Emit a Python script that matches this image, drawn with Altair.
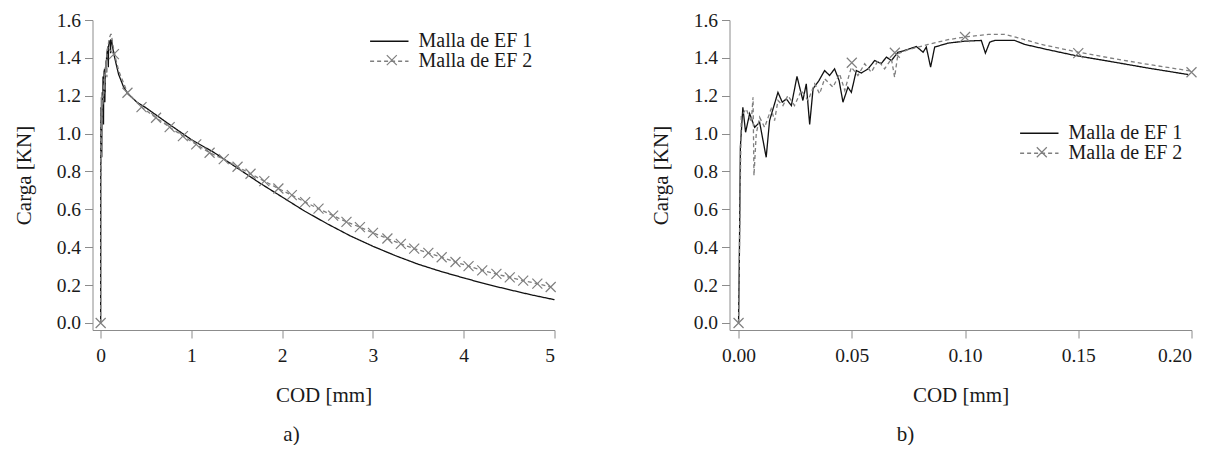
import altair as alt
import pandas as pd

FONT = "Liberation Serif"
SERIES = ["Malla de EF 1", "Malla de EF 2"]

# ---- panel b (detail 0-0.2 mm) ----
b_x1 = [0.0, 0.0004, 0.0008, 0.0019, 0.0031, 0.0049, 0.0071, 0.0093, 0.0122, 0.0137,
        0.0174, 0.0193, 0.0211, 0.0233, 0.0258, 0.0284, 0.0299, 0.0314, 0.0329, 0.0355,
        0.038, 0.0402, 0.0424, 0.0444, 0.0461, 0.0483, 0.0498, 0.052, 0.0542, 0.0572,
        0.0601, 0.063, 0.0653, 0.0675, 0.0704, 0.0733, 0.0785, 0.0815, 0.0829, 0.0848,
        0.0866, 0.0925, 0.0998, 0.1072, 0.109, 0.1109, 0.1131, 0.1219, 0.1264, 0.1367,
        0.1484, 0.1632, 0.1809, 0.1985]
b_y1 = [0.0, 0.40, 0.93, 1.139, 1.007, 1.106, 1.033, 1.06, 0.875, 1.069,
        1.218, 1.166, 1.183, 1.148, 1.302, 1.175, 1.263, 1.048, 1.237, 1.28,
        1.333, 1.307, 1.342, 1.28, 1.166, 1.245, 1.218, 1.333, 1.32, 1.342,
        1.386, 1.37, 1.404, 1.386, 1.43, 1.439, 1.46, 1.43, 1.457, 1.351,
        1.457, 1.478, 1.488, 1.492, 1.425, 1.483, 1.492, 1.492, 1.471, 1.443,
        1.413, 1.383, 1.346, 1.312]

b_x2 = [0.0, 0.0005, 0.0012, 0.0034, 0.0056, 0.0064, 0.0068, 0.0078, 0.0093, 0.0115,
        0.0144, 0.0159, 0.0174, 0.0196, 0.0218, 0.0247, 0.0277, 0.0307, 0.0336, 0.0358,
        0.038, 0.0417, 0.0446, 0.0469, 0.0498, 0.0527, 0.0557, 0.0586, 0.0616, 0.0645,
        0.0675, 0.0689, 0.0704, 0.0748, 0.0837, 0.0925, 0.0998, 0.1102, 0.1175, 0.1234,
        0.1337, 0.15, 0.1661, 0.1838, 0.2]
b_y2 = [0.0, 0.5, 1.095, 1.13, 1.06, 1.192, 0.778, 0.998, 1.086, 1.033,
        1.131, 1.069, 1.175, 1.148, 1.201, 1.148, 1.228, 1.175, 1.263, 1.21,
        1.29, 1.245, 1.316, 1.228, 1.351, 1.307, 1.369, 1.324, 1.386, 1.342,
        1.395, 1.298, 1.422, 1.443, 1.471, 1.496, 1.51, 1.524, 1.524, 1.506,
        1.471, 1.43, 1.395, 1.36, 1.33]

b_mx = [0.0, 0.05, 0.069, 0.1, 0.15, 0.2]
b_my = [0.0, 1.374, 1.427, 1.51, 1.425, 1.324]

# ---- panel a (0-5 mm): detail above plus the softening tail ----
a_tail_x1 = [0.25, 0.3, 0.4, 0.5, 0.75, 1.0, 1.25, 1.5, 1.75, 2.0, 2.25, 2.5, 2.75,
             3.0, 3.25, 3.5, 3.75, 4.0, 4.25, 4.5, 4.75, 5.0]
a_tail_y1 = [1.249, 1.21, 1.166, 1.136, 1.051, 0.968, 0.90, 0.82, 0.74, 0.665, 0.59,
             0.523, 0.46, 0.405, 0.355, 0.31, 0.272, 0.238, 0.205, 0.176, 0.148, 0.123]

a_mx = [0.0, 0.146, 0.295, 0.45, 0.61, 0.76, 0.906, 1.053, 1.2, 1.356, 1.508, 1.651,
        1.803, 1.958, 2.106, 2.253, 2.4, 2.561, 2.708, 2.856, 3.0, 3.159, 3.307, 3.454,
        3.61, 3.757, 3.909, 4.053, 4.204, 4.36, 4.507, 4.655, 4.811, 4.958]
a_my = [0.0, 1.42, 1.216, 1.14, 1.084, 1.034, 0.987, 0.943, 0.899, 0.865, 0.825, 0.788,
        0.749, 0.71, 0.675, 0.638, 0.604, 0.567, 0.534, 0.506, 0.476, 0.446, 0.418, 0.393,
        0.37, 0.347, 0.322, 0.3, 0.278, 0.259, 0.241, 0.224, 0.208, 0.19]

a_x_ticks = [0, 1, 2, 3, 4, 5]
b_x_ticks = [0.0, 0.05, 0.10, 0.15, 0.20]
y_ticks = [0.0, 0.2, 0.4, 0.6, 0.8, 1.0, 1.2, 1.4, 1.6]

XPATH = "M-1,-1L1,1M-1,1L1,-1"
LINEPATH = "M-3.8,0H1"

BLACK = "#111111"
GRAY = "#7f7f7f"
TXT = "#1a1a1a"


def lines_df(x1, y1, x2, y2):
    rows = []
    for k, (x, y) in enumerate(zip(x1, y1)):
        rows.append({"x": x, "y": y, "serie": SERIES[0], "i": k})
    for k, (x, y) in enumerate(zip(x2, y2)):
        rows.append({"x": x, "y": y, "serie": SERIES[1], "i": k})
    return pd.DataFrame(rows)


def marks_df(mx, my):
    return pd.DataFrame({"x": mx, "y": my, "serie": [SERIES[1]] * len(mx)})


a_lines = lines_df(b_x1 + a_tail_x1, b_y1 + a_tail_y1,
                   b_x2 + [x for x in a_mx if x > 0.2],
                   b_y2 + [y for x, y in zip(a_mx, a_my) if x > 0.2])
b_lines = lines_df(b_x1, b_y1, b_x2, b_y2)


def panel(ldf, mdf, xdom, xticks, xfmt, lx, ly, cap, capdx):
    xs = alt.Scale(domain=xdom, nice=False, zero=False)
    ys = alt.Scale(domain=[-0.037, 1.6], nice=False, zero=False)
    xax = alt.Axis(values=xticks, format=xfmt, title="COD [mm]",
                   labelFont=FONT, titleFont=FONT, labelPadding=8, titlePadding=20)
    yax = alt.Axis(values=y_ticks, format=".1f", title="Carga [KN]",
                   labelFont=FONT, titleFont=FONT, labelPadding=4, titlePadding=22)
    cscale = alt.Scale(domain=SERIES, range=[BLACK, GRAY])
    dscale = alt.Scale(domain=SERIES, range=[[1, 0], [4, 3]])
    leg = alt.Legend(
        title=None, orient="none", legendX=lx, legendY=ly,
        symbolType=LINEPATH, symbolSize=256, symbolStrokeWidth=1.4,
        labelOffset=8, rowPadding=-1.5, padding=0,
        labelFont=FONT, labelFontSize=20, labelColor=TXT,
    )
    x = alt.X("x:Q", scale=xs, axis=xax)
    y = alt.Y("y:Q", scale=ys, axis=yax)
    col = alt.Color("serie:N", scale=cscale, legend=leg)
    dash = alt.StrokeDash("serie:N", scale=dscale, legend=leg)
    lines = alt.Chart(ldf).mark_line(strokeWidth=1.3).encode(
        x=x, y=y, color=col, strokeDash=dash, order="i:Q")
    # marker legend: only the "x" glyph, laid over the second legend row
    leg_x = alt.Legend(
        title=None, orient="none", legendX=lx - 4.7, legendY=ly + 23.0,
        symbolSize=100, symbolStrokeWidth=1.2, symbolStrokeColor=GRAY,
        symbolFillColor="transparent", labelExpr="''", labelFontSize=1,
        labelOffset=0, padding=0,
    )
    pts = alt.Chart(mdf).mark_point(
        filled=False, size=100, strokeWidth=1.2, color=GRAY, opacity=1
    ).encode(
        x=x, y=y,
        shape=alt.Shape("serie:N", scale=alt.Scale(domain=[SERIES[1]], range=[XPATH]),
                        legend=leg_x),
    )
    return alt.layer(lines, pts).properties(
        width=462, height=310,
        title=alt.Title(cap, orient="bottom", frame="group", anchor="middle", dx=capdx,
                        offset=18, font=FONT, fontSize=21, fontWeight="normal",
                        color=TXT),
    )


pa = panel(a_lines, marks_df(a_mx, a_my), [-0.09, 5.0], a_x_ticks, "d", 298.0, 11.2, "a)", -32)
pb = panel(b_lines, marks_df(b_mx, b_my), [-0.004, 0.2], b_x_ticks, ".2f", 311.0, 103.25, "b)", -55)

chart = alt.hconcat(pa, pb, spacing=91).resolve_scale(
    x="independent", y="independent", color="independent",
    strokeDash="independent", shape="independent"
).resolve_legend(
    color="independent", strokeDash="independent", shape="independent"
).properties(
    padding={"left": 4.5, "top": 2, "right": 0, "bottom": 0}
).configure_view(stroke=None).configure_axis(
    labelFont=FONT, titleFont=FONT, labelFontSize=19.5, titleFontSize=21,
    titleFontWeight="normal", labelColor=TXT, titleColor=TXT,
    domainColor="#8c8c8c", tickColor="#8c8c8c", tickSize=8, grid=False,
    domainWidth=1, tickWidth=1,
).configure_legend(
    labelFont=FONT, labelFontSize=20, labelColor=TXT
).configure_title(
    font=FONT, fontSize=21, fontWeight="normal", color=TXT
)

chart.save("out.html", embed_options={"renderer": "svg", "actions": False})
